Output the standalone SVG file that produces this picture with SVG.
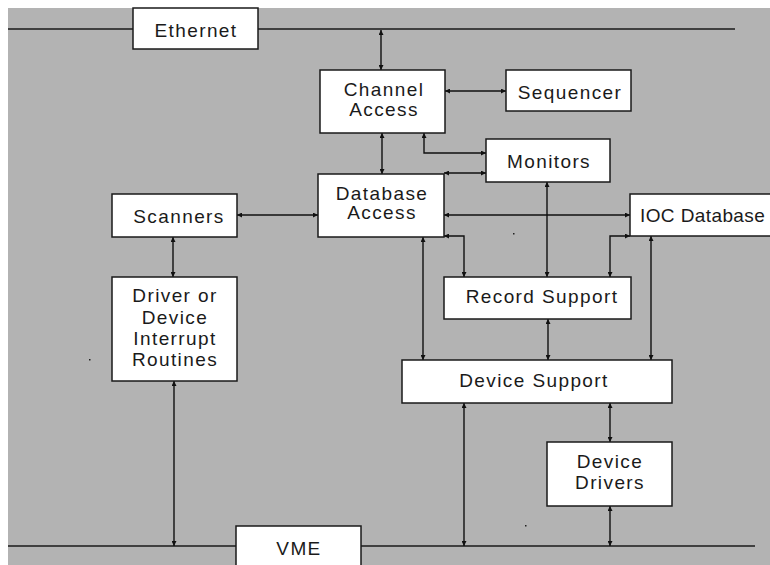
<svg xmlns="http://www.w3.org/2000/svg" width="770" height="565" viewBox="0 0 770 565">
  <style>
    .bg { fill: #b3b3b3; }
    .box { fill: #ffffff; stroke: #1a1a1a; stroke-width: 1.5; }
    .bus { stroke: #1a1a1a; stroke-width: 1.5; fill: none; }
    .link { stroke: #111111; stroke-width: 1.4; fill: none; marker-start: url(#tip); marker-end: url(#tip); }
    .label { font-family: "Liberation Sans", Arial, Helvetica, sans-serif; font-size: 19px; letter-spacing: 1.4px; fill: #1a1a1a; text-anchor: middle; }
    .speck { fill: #222222; }
  </style>
  <defs>
    <marker id="tip" viewBox="0 0 10 10" refX="10" refY="5" markerWidth="5" markerHeight="5" markerUnits="userSpaceOnUse" orient="auto-start-reverse">
      <path d="M0,0 L10,5 L0,10 Z" fill="#111111"/>
    </marker>
  </defs>

  <!-- backdrop -->
  <rect x="0" y="0" width="770" height="565" fill="#ffffff"/>
  <rect class="bg" x="8" y="8" width="762" height="557"/>

  <!-- buses -->
  <g id="buses">
    <line class="bus" x1="8" y1="29" x2="735" y2="29"/>
    <line class="bus" x1="8" y1="546" x2="755" y2="546"/>
  </g>

  <!-- connectors -->
  <g id="connectors">
    <line class="link" x1="381" y1="30" x2="381" y2="70"/>
    <line class="link" x1="445" y1="91" x2="506" y2="91"/>
    <line class="link" x1="382" y1="133" x2="382" y2="174"/>
    <path class="link" d="M424,133 V153 H486"/>
    <line class="link" x1="444" y1="173" x2="486" y2="173"/>
    <line class="link" x1="237" y1="215" x2="318" y2="215"/>
    <line class="link" x1="444" y1="215" x2="630" y2="215"/>
    <line class="link" x1="547" y1="182" x2="547" y2="277"/>
    <path class="link" d="M444,236 H464 V277"/>
    <path class="link" d="M630,236 H610 V277"/>
    <line class="link" x1="423" y1="237" x2="423" y2="360"/>
    <line class="link" x1="651" y1="236" x2="651" y2="360"/>
    <line class="link" x1="548" y1="319" x2="548" y2="360"/>
    <line class="link" x1="173" y1="237" x2="173" y2="277"/>
    <line class="link" x1="174" y1="381" x2="174" y2="546"/>
    <line class="link" x1="464" y1="403" x2="464" y2="546"/>
    <line class="link" x1="610" y1="403" x2="610" y2="442"/>
    <line class="link" x1="610" y1="506" x2="610" y2="546"/>
  </g>

  <!-- nodes -->
  <g id="ethernet">
    <rect class="box" x="133" y="8" width="125" height="41"/>
    <text class="label" x="196" y="37">Ethernet</text>
  </g>
  <g id="channel-access">
    <rect class="box" x="320" y="70" width="125" height="63"/>
    <text class="label" x="384" y="96">Channel</text>
    <text class="label" x="384" y="116">Access</text>
  </g>
  <g id="sequencer">
    <rect class="box" x="506" y="70" width="125" height="41"/>
    <text class="label" x="570" y="99">Sequencer</text>
  </g>
  <g id="monitors">
    <rect class="box" x="486" y="139" width="124" height="43"/>
    <text class="label" x="549" y="168">Monitors</text>
  </g>
  <g id="database-access">
    <rect class="box" x="318" y="174" width="126" height="63"/>
    <text class="label" x="382" y="200">Database</text>
    <text class="label" x="382" y="219">Access</text>
  </g>
  <g id="scanners">
    <rect class="box" x="112" y="194" width="125" height="43"/>
    <text class="label" x="179" y="223">Scanners</text>
  </g>
  <g id="ioc-database">
    <rect class="box" x="630" y="194" width="150" height="42"/>
    <text class="label" x="640" y="222" style="text-anchor:start; letter-spacing:0.4px">IOC Database</text>
  </g>
  <g id="driver-interrupt">
    <rect class="box" x="112" y="277" width="125" height="104"/>
    <text class="label" x="175" y="302">Driver or</text>
    <text class="label" x="175" y="324">Device</text>
    <text class="label" x="175" y="345">Interrupt</text>
    <text class="label" x="175" y="366">Routines</text>
  </g>
  <g id="record-support">
    <rect class="box" x="444" y="277" width="187" height="42"/>
    <text class="label" x="542" y="303">Record Support</text>
  </g>
  <g id="device-support">
    <rect class="box" x="402" y="360" width="270" height="43"/>
    <text class="label" x="534" y="387">Device Support</text>
  </g>
  <g id="device-drivers">
    <rect class="box" x="547" y="442" width="125" height="64"/>
    <text class="label" x="610" y="468">Device</text>
    <text class="label" x="610" y="489">Drivers</text>
  </g>
  <g id="vme">
    <rect class="box" x="236" y="526" width="125" height="50"/>
    <text class="label" x="299" y="555">VME</text>
  </g>

  <!-- stray specks -->
  <rect class="speck" x="89" y="359" width="1.5" height="1.5"/>
  <rect class="speck" x="513" y="233" width="1.5" height="1.5"/>
  <rect class="speck" x="525" y="525" width="1.5" height="1.5"/>
</svg>
